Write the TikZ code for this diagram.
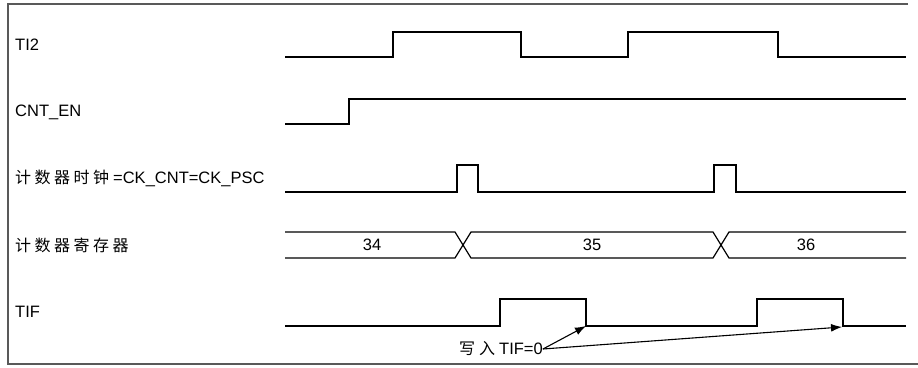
\documentclass[tikz,border=0pt]{standalone}
\usepackage{fontspec}
\setmainfont{Liberation Sans}
\newfontfamily\cjk{Noto Sans CJK SC}
\usetikzlibrary{arrows.meta,positioning}
\newcommand{\zh}[1]{{\cjk\fontsize{16}{18}\selectfont #1}}
\tikzset{
    % Signal line
    sigline/.style={
        line width=1.2pt,
        draw=black,
        line join=miter
    },
    % Signal name
    siglabel/.style={
        anchor=west,
        inner sep=0pt,
        font=\fontsize{16.5}{19}\selectfont
    },
    % Bus value
    buslabel/.style={
        inner sep=0pt,
        font=\fontsize{16.5}{19}\selectfont
    },
    % Outer frame
    framebox/.style={
        line width=1.2pt,
        draw=black!65
    },
    % Note arrow
    myarrow/.style={
        -{Latex[length=11pt,width=8pt]},
        line width=1.1pt,
        draw=black
    }
}
\begin{document}
\begin{tikzpicture}[x=1pt, y=-1pt]
        \useasboundingbox (0,0) rectangle (918,367);
        % Frame
        \draw[framebox] (908,4) -- (8,4) -- (8,364) -- (918,364);

        % Signal names
        \node[siglabel] (ti2) at (15,45) {TI2};
        \node[siglabel] (cnten) at (15,112) {CNT\_EN};
        \node[siglabel] (ckcnt) at (15,178) {\zh{计\hspace{3.5pt}数\hspace{3.5pt}器\hspace{3.5pt}时\hspace{3.5pt}钟}\hspace{4pt}=CK\_CNT=CK\_PSC};
        \node[siglabel] (cntreg) at (15,245) {\zh{计\hspace{3.5pt}数\hspace{3.5pt}器\hspace{3.5pt}寄\hspace{3.5pt}存\hspace{3.5pt}器}};
        \node[siglabel] (tif) at (15,312) {TIF};

        % TI2
        \draw[sigline] (285,57) -- (393,57) -- (393,32) -- (521,32) -- (521,57) -- (628,57) -- (628,32) -- (778,32) -- (778,57) -- (906,57);
        % CNT_EN
        \draw[sigline] (285,124) -- (349,124) -- (349,99) -- (906,99);
        % Counter clock
        \draw[sigline] (285,192) -- (457,192) -- (457,165) -- (478,165) -- (478,192) -- (714,192) -- (714,165) -- (736,165) -- (736,192) -- (906,192);
        % Counter register
        \draw[sigline] (285,232) -- (455,232) -- (471,258) -- (713,258) -- (729,232) -- (906,232);
        \draw[sigline] (285,258) -- (455,258) -- (471,232) -- (713,232) -- (729,258) -- (906,258);
        \node[buslabel] (v34) at (372,245) {34};
        \node[buslabel] (v35) at (592,245) {35};
        \node[buslabel] (v36) at (806,245) {36};
        % TIF
        \draw[sigline] (285,326) -- (500,326) -- (500,299) -- (586,299) -- (586,326) -- (757,326) -- (757,299) -- (843,299) -- (843,326) -- (906,326);

        % Clear note
        \node[buslabel, anchor=west] (wr) at (459,349) {\zh{写\hspace{4pt}入}\hspace{4pt}TIF=0};
        \coordinate (clr1) at (586,326);
        \coordinate (clr2) at (842,327);
        \draw[myarrow] (wr.east) -- (clr1);
        \draw[myarrow] (wr.east) -- (clr2);
\end{tikzpicture}
\end{document}
